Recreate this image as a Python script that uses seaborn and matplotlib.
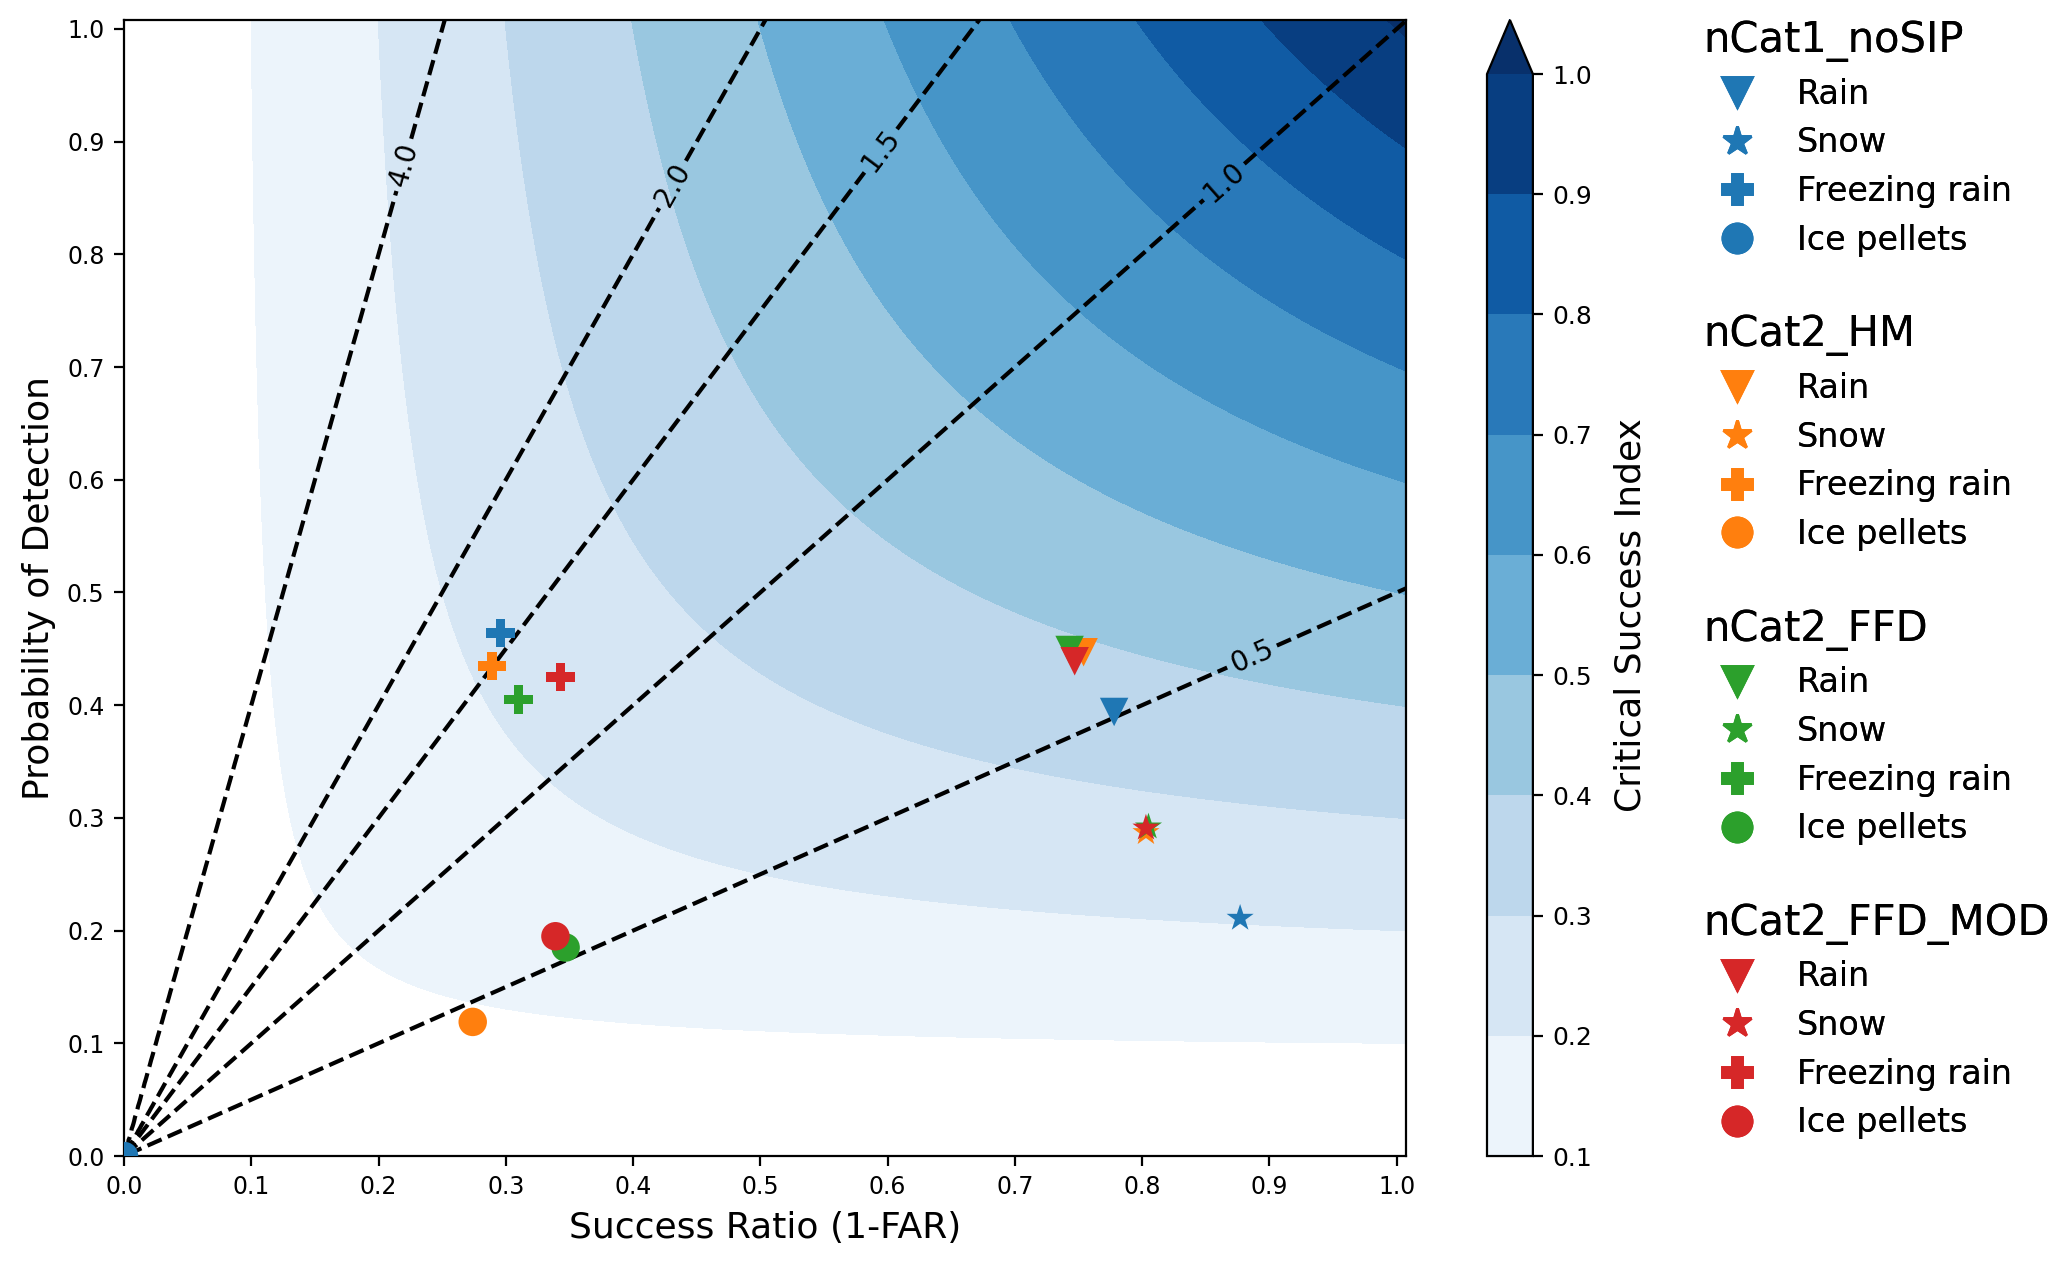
import numpy as np
import pandas as pd
import matplotlib
matplotlib.use("Agg")
import matplotlib.pyplot as plt
from matplotlib.lines import Line2D
import seaborn as sns

models = ["nCat1_noSIP", "nCat2_HM", "nCat2_FFD", "nCat2_FFD_MOD"]
model_colors = ["#1f77b4", "#ff7f0e", "#2ca02c", "#d62728"]
ptypes = ["Rain", "Snow", "Freezing rain", "Ice pellets"]
ptype_markers = ["v", "*", "P", "o"]

# success ratio and POD per model (order: rain, snow, freezing rain, ice pellets)
sr_noSIP = [0.778, 0.877, 0.296, 0.0]
pod_noSIP = [0.394, 0.211, 0.464, 0.0]
sr_HM = [0.754, 0.803, 0.289, 0.274]
pod_HM = [0.447, 0.287, 0.435, 0.119]
sr_FFD = [0.743, 0.805, 0.310, 0.347]
pod_FFD = [0.449, 0.292, 0.405, 0.185]
sr_MOD = [0.747, 0.803, 0.343, 0.339]
pod_MOD = [0.439, 0.291, 0.425, 0.195]

csi_levels = [0.1, 0.2, 0.3, 0.4, 0.5, 0.6, 0.7, 0.8, 0.9, 1.0]
bias_levels = [0.5, 1.0, 1.5, 2.0, 4.0]
bias_label_pos = [(0.886, 0.444), (0.863, 0.866), (0.591, 0.895), (0.431, 0.862), (0.218, 0.88)]

rows = []
for m, srs, pods in zip(models, [sr_noSIP, sr_HM, sr_FFD, sr_MOD], [pod_noSIP, pod_HM, pod_FFD, pod_MOD]):
    for p, s, d in zip(ptypes, srs, pods):
        rows.append({"model": m, "ptype": p, "sr": s, "pod": d})
df = pd.DataFrame(rows)

fig = plt.figure(figsize=(10.335, 6.315), dpi=200)
ax = fig.add_axes([0.060, 0.0847, 0.620, 0.8995])
cax = fig.add_axes([0.7194, 0.0847, 0.0222, 0.8995])

# performance diagram background
sr_grid, pod_grid = np.meshgrid(np.linspace(0.001, 1.01, 400), np.linspace(0.001, 1.01, 400))
csi = 1.0 / (1.0 / sr_grid + 1.0 / pod_grid - 1.0)
bias = pod_grid / sr_grid

cf = ax.contourf(sr_grid, pod_grid, csi, levels=csi_levels, cmap="Blues", extend="max")
cb = fig.colorbar(cf, cax=cax)
cb.set_ticks(csi_levels)
cb.ax.tick_params(labelsize=9)
cb.set_label("Critical Success Index", fontsize=13, labelpad=7.5)

bl = ax.contour(sr_grid, pod_grid, bias, levels=bias_levels, colors="k", linestyles="dashed", linewidths=1.5)
ax.clabel(bl, fmt="%.1f", fontsize=10, manual=bias_label_pos, inline=True)

sns.scatterplot(data=df, x="sr", y="pod", hue="model", style="ptype",
                palette=dict(zip(models, model_colors)),
                markers=dict(zip(ptypes, ptype_markers)),
                s=105, linewidth=0, legend=False, ax=ax, zorder=5)

ax.set_xlim(0, 1.007)
ax.set_ylim(0, 1.008)
ax.set_xticks(np.arange(0, 1.01, 0.1))
ax.set_yticks(np.arange(0, 1.01, 0.1))
ax.tick_params(labelsize=8.5)
ax.set_xlabel("Success Ratio (1-FAR)", fontsize=13)
ax.set_ylabel("Probability of Detection", fontsize=13)

legend_tops = [0.985, 0.752, 0.519, 0.286]
for m, c, top in zip(models, model_colors, legend_tops):
    handles = [Line2D([], [], ls="", marker=mk, color=c, markersize=10.5) for mk in ptype_markers]
    leg = fig.legend(handles, ptypes, title=m, loc="upper left", bbox_to_anchor=(0.824, top),
                     frameon=False, fontsize=12, title_fontsize=15, alignment="left",
                     borderpad=0, borderaxespad=0, labelspacing=0.47)
    fig.add_artist(leg)

fig.savefig("out.png", dpi=200)
